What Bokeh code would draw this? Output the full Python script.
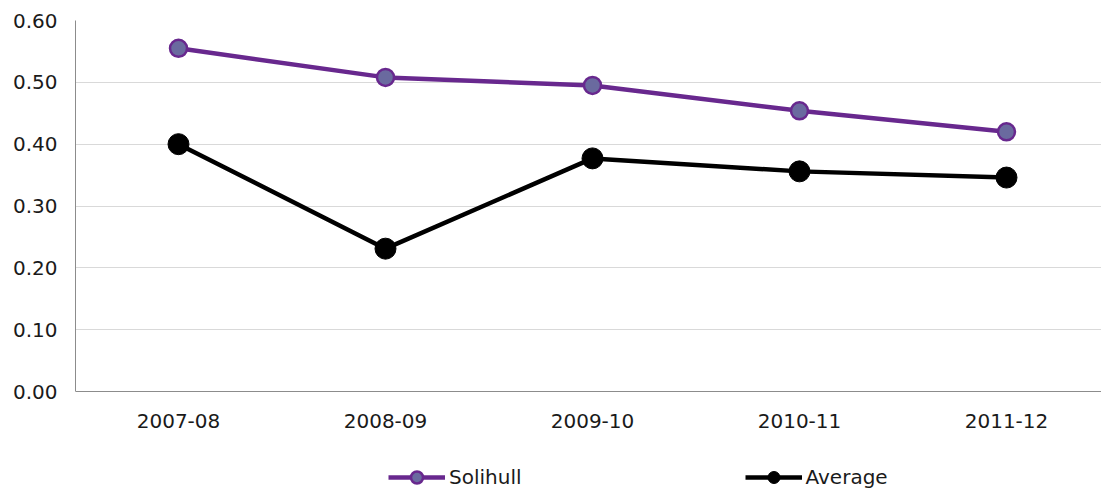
from bokeh.plotting import figure
from bokeh.models import FixedTicker, Legend, LegendItem, Range1d
from bokeh.embed import file_html
from bokeh.resources import INLINE

years = ["2007-08", "2008-09", "2009-10", "2010-11", "2011-12"]
solihull = [0.555, 0.508, 0.495, 0.454, 0.420]
average = [0.400, 0.231, 0.377, 0.356, 0.346]
y_ticks = [0.0, 0.1, 0.2, 0.3, 0.4, 0.5, 0.6]
y_labels = ["0.00", "0.10", "0.20", "0.30", "0.40", "0.50", "0.60"]

xs = list(range(len(years)))
FONT = "DejaVu Sans"
TXT = "#1a1a1a"

p = figure(width=1101, height=488, output_backend="svg", toolbar_location=None,
           x_range=Range1d(-0.4976, 4.459), y_range=Range1d(-0.15687, 0.6),
           min_border_left=75, min_border_right=0, min_border_top=20, min_border_bottom=0)
p.outline_line_color = None
p.background_fill_color = "white"

p.xgrid.grid_line_color = None
p.ygrid.grid_line_color = "#d9d9d9"
p.ygrid.grid_line_width = 1
p.ygrid.ticker = FixedTicker(ticks=y_ticks)

p.yaxis.ticker = FixedTicker(ticks=y_ticks)
p.yaxis.bounds = (0, 0.6)
p.yaxis.major_label_overrides = {t: l for t, l in zip(y_ticks, y_labels)}
p.yaxis.axis_line_color = "#8c8c8c"
p.yaxis.major_tick_line_color = None
p.yaxis.major_tick_out = 0
p.yaxis.minor_tick_line_color = None
p.yaxis.major_label_text_font = FONT
p.yaxis.major_label_text_font_size = "20px"
p.yaxis.major_label_text_color = TXT
p.yaxis.major_label_standoff = 18

p.xaxis.fixed_location = 0
p.xaxis.ticker = FixedTicker(ticks=xs)
p.xaxis.major_label_overrides = {i: y for i, y in zip(xs, years)}
p.xaxis.axis_line_color = "#8c8c8c"
p.xaxis.major_tick_line_color = None
p.xaxis.major_tick_out = 0
p.xaxis.minor_tick_line_color = None
p.xaxis.major_label_text_font = FONT
p.xaxis.major_label_text_font_size = "20px"
p.xaxis.major_label_text_color = TXT
p.xaxis.major_label_standoff = 22

l1 = p.line(xs, solihull, line_color="#68288e", line_width=4.5)
c1 = p.scatter(xs, solihull, size=17, fill_color="#6a6a9f", line_color="#68288e", line_width=2.5)
l2 = p.line(xs, average, line_color="black", line_width=4.5)
c2 = p.scatter(xs, average, size=21, fill_color="black", line_color="black")

legend = Legend(items=[LegendItem(label="Solihull", renderers=[l1, c1]),
                       LegendItem(label="Average", renderers=[l2, c2])],
                orientation="horizontal", location=(313, -4),
                glyph_width=57, glyph_height=30, label_standoff=4, spacing=223,
                padding=0, margin=0, border_line_color=None, background_fill_alpha=0,
                label_text_font=FONT, label_text_font_size="20px", label_text_color=TXT)
p.add_layout(legend, "center")

open("out.html", "w").write(file_html(p, INLINE))
